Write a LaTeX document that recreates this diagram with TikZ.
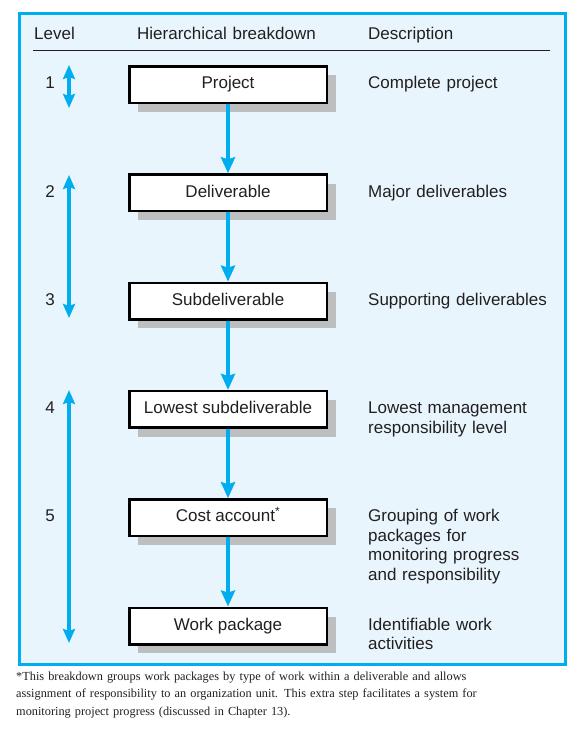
\documentclass[tikz,border=0pt]{standalone}
\usepackage{fontspec}
\setmainfont{Liberation Sans}
\newfontfamily\notefont{Liberation Serif}
\usetikzlibrary{arrows.meta, positioning, shadows}
\definecolor{wbsblue}{HTML}{00AEEF}
\definecolor{wbsback}{HTML}{E9F5FD}
\definecolor{wbsshade}{HTML}{BCBEC0}
\definecolor{wbstext}{HTML}{231F20}

\begin{document}
\begin{tikzpicture}[x=1pt, y=-1pt, node distance=69.3pt,
	font=\fontsize{17}{19.5}\selectfont, text=wbstext,
	wbox/.style={draw=black, fill=white, line width=2.5pt, minimum width=197.5pt, minimum height=36.5pt,
		inner sep=0pt, text height=12pt, text depth=3.5pt,
		drop shadow={shadow xshift=9pt, shadow yshift=-9pt, fill=wbsshade, opacity=1}},
	flow/.style={wbsblue, line width=3.5pt, -{Stealth[length=16pt, width=14pt, inset=2pt]}},
	span/.style={wbsblue, line width=3.5pt, {Stealth[length=14pt, width=12pt, inset=2pt]}-{Stealth[length=14pt, width=12pt, inset=2pt]}},
	desc/.style={anchor=base west, align=left, inner sep=0pt, text width=195pt},
	lvl/.style={anchor=base, inner sep=0pt}]
	\useasboundingbox (0,0) rectangle (581,744);
	\draw[wbsblue, line width=3pt, fill=wbsback] (19.5,13.5) rectangle (565.5,664.5);

	% column heads
	\node[desc] (hlevel) at (34,39) {Level};
	\node[desc] (hbreak) at (137,39) {Hierarchical breakdown};
	\node[desc] (hdesc) at (368,39) {Description};
	\draw[wbstext, line width=1pt] (33,50) -- (550,50);

	\node[wbox] (proj) at (228,84.5) {Project};
	\node[wbox, below=of proj] (deliv) {Deliverable};
	\node[wbox, below=of deliv] (subdel) {Subdeliverable};
	\node[wbox, below=of subdel] (lowest) {Lowest subdeliverable};
	\node[wbox, below=of lowest] (cost) {Cost account\textsuperscript{*}};
	\node[wbox, below=of cost] (wpack) {Work package};
	\foreach \a/\b in {proj/deliv, deliv/subdel, subdel/lowest, lowest/cost, cost/wpack}
		\draw[flow] (\a) -- (\b);

	% levels
	\coordinate (lcol) at (50,0);
	\coordinate (dcol) at (368,0);
	\foreach \n/\b in {1/proj, 2/deliv, 3/subdel, 4/lowest, 5/cost}
		\node[lvl] (lvl\n) at (\b.base -| lcol) {\n};
	\coordinate (s1a) at (69,65);
	\coordinate (s1b) at (69,108);
	\coordinate (s2a) at (69,175);
	\coordinate (s2b) at (69,318);
	\coordinate (s3a) at (69,390);
	\coordinate (s3b) at (69,643);
	\draw[span] (s1a) -- (s1b);
	\draw[span] (s2a) -- (s2b);
	\draw[span] (s3a) -- (s3b);

	% descriptions
	\node[desc] (dproj) at (proj.base -| dcol) {Complete project};
	\node[desc] (ddeliv) at (deliv.base -| dcol) {Major deliverables};
	\node[desc] (dsubdel) at (subdel.base -| dcol) {Supporting deliverables};
	\node[desc] (dlowest) at (lowest.base -| dcol) {Lowest management\\responsibility level};
	\node[desc] (dcost) at (cost.base -| dcol) {Grouping of work\\packages for\\monitoring progress\\and responsibility};
	\node[desc] (dwpack) at (wpack.base -| dcol) {Identifiable work\\activities};

	\node[anchor=base west, align=left, inner sep=0pt, text width=560pt,
		font=\notefont\fontsize{12.3}{17.5}\selectfont] (note) at (16,680)
		{*This breakdown groups work packages by type of work within a deliverable and allows\\
		assignment of responsibility to an organization unit. This extra step facilitates a system for\\
		monitoring project progress (discussed in Chapter 13).};
\end{tikzpicture}
\end{document}
